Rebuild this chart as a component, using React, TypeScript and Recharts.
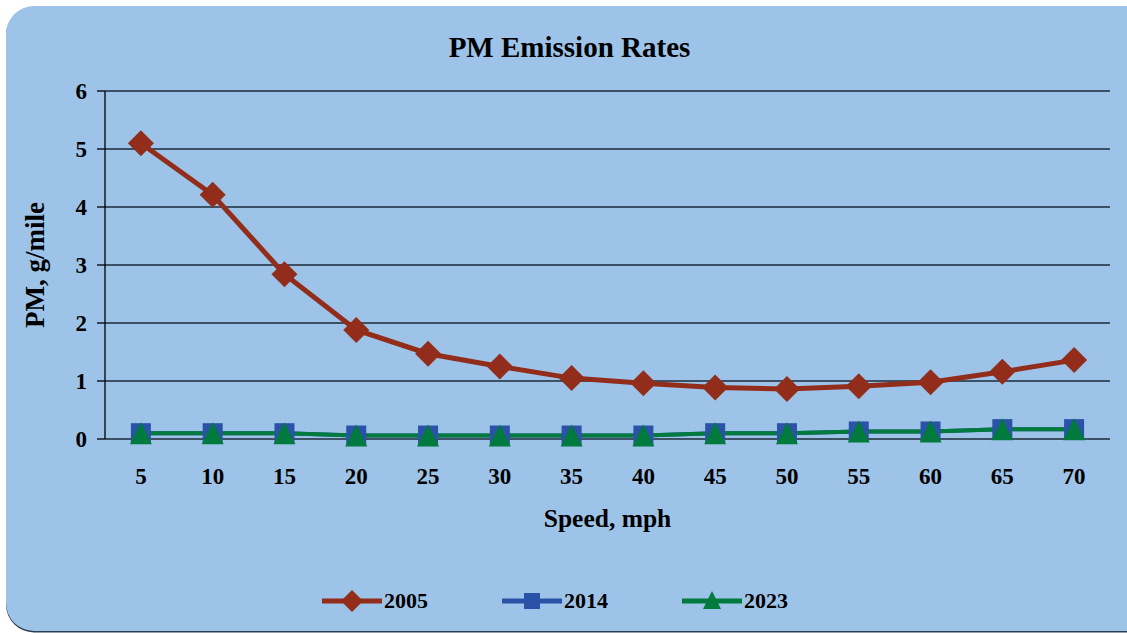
import React from 'react';
import { LineChart, Line, XAxis, YAxis, CartesianGrid, Label } from 'recharts';

const speeds = [5, 10, 15, 20, 25, 30, 35, 40, 45, 50, 55, 60, 65, 70];
const pm2005 = [5.1, 4.21, 2.84, 1.88, 1.47, 1.25, 1.05, 0.96, 0.89, 0.86, 0.91, 0.98, 1.16, 1.36];
const pm2014 = [0.1, 0.1, 0.1, 0.06, 0.06, 0.06, 0.06, 0.06, 0.1, 0.1, 0.13, 0.13, 0.17, 0.17];
const pm2023 = [0.1, 0.1, 0.1, 0.06, 0.06, 0.06, 0.06, 0.06, 0.1, 0.1, 0.13, 0.13, 0.17, 0.17];
const yTicks = [0, 1, 2, 3, 4, 5, 6];

const data = speeds.map((speed, i) => ({
  speed,
  y2005: pm2005[i],
  y2014: pm2014[i],
  y2023: pm2023[i],
}));

// tick marks sit between the categories, like a category axis
const half = (speeds[1] - speeds[0]) / 2;
const edgeTicks = [...speeds.map((s) => s - half), speeds[speeds.length - 1] + half];

const RED = '#922d1c';
const BLUE = '#2a52a6';
const GREEN = '#007a3d';
const FONT = '"Liberation Serif", "Times New Roman", serif';

const diamond = (color: string, r: number) => (props: any) => {
  const { cx, cy, index } = props;
  return (
    <path
      key={`d-${index}`}
      d={`M${cx},${cy - r}L${cx + r},${cy}L${cx},${cy + r}L${cx - r},${cy}Z`}
      fill={color}
    />
  );
};

const square = (color: string, r: number) => (props: any) => {
  const { cx, cy, index } = props;
  return <rect key={`s-${index}`} x={cx - r} y={cy - r} width={r * 2} height={r * 2} fill={color} />;
};

const triangle = (color: string, r: number) => (props: any) => {
  const { cx, cy, index } = props;
  return (
    <path
      key={`t-${index}`}
      d={`M${cx},${cy - r}L${cx + r},${cy + r}L${cx - r},${cy + r}Z`}
      fill={color}
    />
  );
};

const legendItems = [
  { name: '2005', color: RED, marker: 'diamond' },
  { name: '2014', color: BLUE, marker: 'square' },
  { name: '2023', color: GREEN, marker: 'triangle' },
];

function LegendIcon({ color, marker }: { color: string; marker: string }) {
  return (
    <svg width={60} height={24} style={{ display: 'block' }}>
      <line x1={0} y1={12} x2={60} y2={12} stroke={color} strokeWidth={5} />
      {marker === 'diamond' && <path d="M30,1L41,12L30,23L19,12Z" fill={color} />}
      {marker === 'square' && <rect x={22} y={4} width={16} height={16} fill={color} />}
      {marker === 'triangle' && <path d="M30,2L39,20L21,20Z" fill={color} />}
    </svg>
  );
}

export default function App() {
  return (
    <div style={{ position: 'absolute', left: 0, top: 0, width: 1127, height: 633, background: '#fff', overflow: 'hidden', fontFamily: FONT }}>
      <div
        style={{
          position: 'absolute',
          left: 6,
          top: 6,
          width: 1150,
          height: 625,
          background: '#9dc4e8',
          borderRadius: 28,
          boxShadow: '0 1.5px 0 #2c3e50',
        }}
      />
      <div
        style={{
          position: 'absolute',
          left: 0,
          width: 1127,
          top: 29,
          textAlign: 'center',
          fontSize: 29,
          fontWeight: 'bold',
          color: '#000',
          lineHeight: '36px',
          paddingLeft: 12,
          boxSizing: 'border-box',
        }}
      >
        PM Emission Rates
      </div>

      <div style={{ position: 'absolute', left: 0, top: 0 }}>
        <LineChart width={1127} height={633} data={data} margin={{ top: 91, right: 17, left: 0, bottom: 94 }}>
          <CartesianGrid vertical={false} stroke="#1e2b38" strokeWidth={1.3} />
          <XAxis
            xAxisId="edges"
            dataKey="speed"
            type="number"
            domain={[speeds[0] - half, speeds[speeds.length - 1] + half]}
            ticks={edgeTicks}
            tick={false}
            height={0}
            axisLine={{ stroke: '#000', strokeWidth: 1.3 }}
            tickLine={{ stroke: '#000', strokeWidth: 1.3 }}
            tickSize={8}
          />
          <XAxis
            dataKey="speed"
            type="number"
            domain={[speeds[0] - half, speeds[speeds.length - 1] + half]}
            ticks={speeds}
            axisLine={false}
            tickLine={false}
            tickSize={8}
            tickMargin={21}
            height={100}
            tick={{ fill: '#000', fontSize: 23, fontWeight: 'bold', fontFamily: FONT }}
          >
            <Label
              value="Speed, mph"
              position="insideBottom"
              offset={12}
              style={{ fill: '#000', fontSize: 25.5, fontWeight: 'bold', fontFamily: FONT }}
            />
          </XAxis>
          <YAxis
            domain={[0, 6]}
            ticks={yTicks}
            width={105}
            axisLine={{ stroke: '#000', strokeWidth: 1.3 }}
            tickLine={{ stroke: '#000', strokeWidth: 1.3 }}
            tickSize={8}
            tickMargin={10}
            tick={{ fill: '#000', fontSize: 23, fontWeight: 'bold', fontFamily: FONT }}
          >
            <Label
              content={(props: any) => {
                const vb = props.viewBox || { x: 0, y: 91, height: 348 };
                const cx = vb.x + 35;
                const cy = vb.y + vb.height / 2;
                return (
                  <text
                    x={cx}
                    y={cy}
                    transform={`rotate(-90, ${cx}, ${cy})`}
                    textAnchor="middle"
                    dominantBaseline="central"
                    style={{ fill: '#000', fontSize: 27, fontWeight: 'bold', fontFamily: FONT }}
                  >
                    PM, g/mile
                  </text>
                );
              }}
            />
          </YAxis>
          <Line
            dataKey="y2005"
            stroke={RED}
            strokeWidth={5}
            dot={diamond(RED, 13)}
            activeDot={false}
            isAnimationActive={false}
          />
          <Line
            dataKey="y2014"
            stroke={BLUE}
            strokeWidth={4}
            dot={square(BLUE, 10)}
            activeDot={false}
            isAnimationActive={false}
          />
          <Line
            dataKey="y2023"
            stroke={GREEN}
            strokeWidth={4}
            dot={triangle(GREEN, 11)}
            activeDot={false}
            isAnimationActive={false}
          />
        </LineChart>
      </div>

      <div style={{ position: 'absolute', top: 589, left: 322, display: 'flex', alignItems: 'center' }}>
        {legendItems.map((item, i) => (
          <div key={item.name} style={{ display: 'flex', alignItems: 'center', marginRight: i < 2 ? 74 : 0 }}>
            <LegendIcon color={item.color} marker={item.marker} />
            <span style={{ fontSize: 22, fontWeight: 'bold', marginLeft: 2, lineHeight: '24px' }}>{item.name}</span>
          </div>
        ))}
      </div>
    </div>
  );
}
